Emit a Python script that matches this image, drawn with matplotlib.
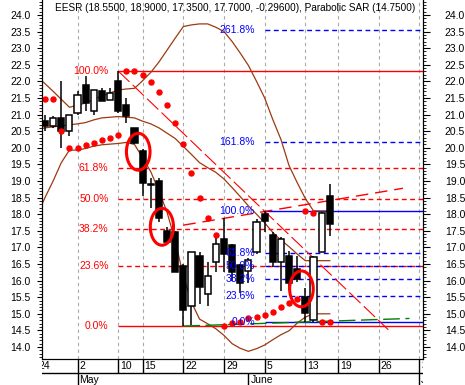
import matplotlib
matplotlib.use('Agg')
import matplotlib.pyplot as plt
from matplotlib.patches import Ellipse, Rectangle
from matplotlib.ticker import MultipleLocator, FormatStrFormatter

plt.rcParams['font.family'] = ['Liberation Sans', 'DejaVu Sans']

# daily candles, x = trading-day index (0 = May 2)
days = list(range(-4, 32))
opens = [20.8, 20.65, 20.9, 20.5, 21.05, 21.9, 21.1, 21.7, 21.45, 22.0,
         21.3, 20.6, 19.9, 18.9, 19.0, 17.5, 17.45, 16.45, 15.25, 16.75,
         15.6, 16.55, 17.25, 17.07, 16.47, 16.3, 16.85, 18.0, 17.37, 16.55,
         16.75, 16.35, 15.5, 14.8, 16.87, 18.55]
highs = [21.0, 20.95, 22.0, 21.0, 21.7, 22.15, 21.75, 21.8, 21.8, 22.31,
         21.5, 20.6, 19.95, 19.1, 19.1, 17.6, 17.5, 16.5, 16.85, 16.85,
         16.55, 17.3, 17.88, 17.1, 16.5, 16.68, 17.85, 18.11, 17.45, 17.3,
         16.9, 16.75, 15.78, 16.75, 18.08, 18.9]
lows = [20.5, 20.6, 20.0, 20.35, 21.0, 21.1, 21.0, 21.4, 21.45, 21.05,
        20.75, 20.1, 18.55, 18.2, 17.75, 17.1, 16.25, 14.63, 14.65, 15.3,
        15.25, 16.25, 16.25, 16.0, 15.64, 15.93, 16.8, 17.45, 16.4, 15.7,
        15.72, 15.95, 14.75, 14.76, 16.85, 17.35]
closes = [20.65, 20.9, 20.5, 21.0, 21.6, 21.35, 21.75, 21.4, 21.65, 21.1,
          20.95, 20.15, 18.95, 18.88, 17.9, 17.15, 16.25, 15.1, 16.85, 15.8,
          16.15, 17.1, 16.8, 16.27, 15.92, 16.62, 17.75, 17.8, 16.55, 17.25,
          15.92, 16.05, 15.02, 16.7, 18.03, 17.7]

# parabolic SAR, same days
sar = [21.48, 21.46, 20.52, 20.0, 20.0, 20.07, 20.13, 20.22, 20.3, 20.37,
       22.31, 22.31, 22.19, 21.98, 21.68, 21.29, 20.76, 20.11, 19.24, 18.5,
       17.88, 17.36, 14.63, 14.71, 14.76, 14.86, 14.89, 14.96, 15.06, 15.2,
       15.32, 15.44, 18.1, 18.03, 14.75, 14.75]

# bollinger bands, days -5 .. 31
band_days = list(range(-5, 32))
bb_upper = [22.16, 21.93, 21.7, 21.46, 21.22, 21.28, 21.35, 21.46, 21.56, 21.65,
            21.74, 21.77, 21.79, 22.02, 22.27, 22.58, 22.94, 23.3, 23.65, 23.7,
            23.73, 23.73, 23.63, 23.5, 23.2, 22.85, 22.48, 22.0, 21.5, 20.85,
            20.25, 19.46, 18.95, 18.47, 18.1, 18.1, 18.1]
bb_mid = [20.55, 20.6, 20.63, 20.66, 20.69, 20.72, 20.76, 20.84, 20.9, 20.92,
          20.94, 20.92, 20.9, 20.8, 20.72, 20.6, 20.44, 20.28, 20.04, 19.8,
          19.55, 19.4, 19.26, 19.06, 18.8, 18.53, 18.25, 18.0, 17.74, 17.45,
          17.22, 17.02, 16.8, 16.6, 16.6, 16.6, 16.6]
bb_lower = [17.95, 18.5, 19.0, 19.55, 19.93, 19.93, 19.98, 20.05, 20.09, 20.11,
            20.13, 20.16, 20.1, 19.7, 19.28, 18.7, 18.06, 17.2, 16.15, 15.35,
            14.84, 14.7, 14.55, 14.35, 14.1, 13.96, 13.87, 13.95, 14.06, 14.22,
            14.37, 14.49, 14.72, 14.9, 15.0, 15.0, 15.0]

# fibonacci swings (day of high, day of low)
red_swing = (5, 13)
blue_swing = (23, 28)
red_levels = [1.0, 0.618, 0.5, 0.382, 0.236, 0.0]
blue_levels = [2.618, 1.618, 1.0, 0.618, 0.5, 0.382, 0.236, 0.0]

# drawn trend lines
fan_x, fan_y = [5, 38.2], [22.31, 14.52]
rise_x, rise_y = [13, 40], [17.67, 18.78]
green_x, green_y = [13, 40.8], [14.63, 14.86]

# hand-drawn circles
ell_x = [7.46, 10.37, 27.52]
ell_y = [19.88, 17.62, 15.75]
ell_w = [2.9, 2.85, 2.9]
ell_h = [1.11, 1.11, 1.08]

tick_days = [-5, 0, 5, 8, 13, 18, 23, 28, 32, 37, 42]
tick_labels = ['24', '2', '10', '15', '22', '29', '5', '13', '19', '26', '3']
month_days = [0, 21, 42]
month_labels = ['May', 'June', 'July']

title = 'EESR (18.5500, 18.9000, 17.3500, 17.7000, -0.29600), Parabolic SAR (14.7500)'

RED = '#ff0000'
BLUE = '#0000ff'
BROWN = '#9c3a10'
FS = 7.5

W, H = 465, 385
fig = plt.figure(figsize=(W / 100, H / 100), dpi=100)
left, right, bottom = 41.7 / W, 422.5 / W, (H - 359.3) / H
ax = fig.add_axes([left, bottom, right - left, 1 - bottom])
xlim = (-4.405, 42.4)
ylim = (13.63, 24.45)
ax.set_xlim(*xlim)
ax.set_ylim(*ylim)

for d in tick_days:
    ax.axvline(d, color='#a8a8a8', lw=0.8, ls=(0, (3, 3)), zorder=0)

# bands
ax.plot(band_days, bb_upper, color=BROWN, lw=0.9, zorder=2)
ax.plot(band_days, bb_mid, color=BROWN, lw=0.9, zorder=2)
ax.plot(band_days, bb_lower, color=BROWN, lw=0.9, zorder=2)

# fibonacci retracements
def fib(swing, levels, color):
    hi = highs[days.index(swing[0])]
    lo = lows[days.index(swing[1])]
    for lv in levels:
        y = lo + lv * (hi - lo)
        solid = lv in (0.0, 1.0)
        ax.hlines(y, swing[0], xlim[1], color=color, lw=1.0,
                  ls='-' if solid else (0, (3.5, 2.5)), zorder=1)
        ax.text(swing[0] - 1.2, y, '%.1f%%' % (lv * 100), color=color,
                fontsize=FS, ha='right', va='center', zorder=6)

fib(red_swing, red_levels, RED)
fib(blue_swing, blue_levels, BLUE)

ax.plot(fan_x, fan_y, color=RED, lw=0.8, ls=(0, (14, 4)), zorder=2)
ax.plot(rise_x, rise_y, color=RED, lw=1.0, ls=(0, (9, 5)), zorder=2)
ax.plot(green_x, green_y, color='#008000', lw=1.0, ls=(0, (12, 4)), zorder=2)

# candles
for d, o, h, l, c in zip(days, opens, highs, lows, closes):
    ax.vlines(d, l, h, color='black', lw=1.1, zorder=3)
    up = c >= o
    ax.add_patch(Rectangle((d - 0.38, min(o, c)), 0.76, max(abs(c - o), 0.03),
                           facecolor='white' if up else 'black',
                           edgecolor='black', lw=1.1, zorder=4))

ax.plot(days, sar, 'o', color=RED, ms=3.6, mec=RED, zorder=5)

for x, y, w, h in zip(ell_x, ell_y, ell_w, ell_h):
    ax.add_patch(Ellipse((x, y), w, h, fill=False, edgecolor=RED, lw=2.2, zorder=7))

# axes styling
ax.spines['top'].set_visible(False)
ax.set_xticks([])
ax.yaxis.set_major_locator(MultipleLocator(0.5))
ax.yaxis.set_minor_locator(MultipleLocator(0.1))
ax.yaxis.set_major_formatter(FormatStrFormatter('%.1f'))
ax.tick_params(axis='y', which='major', direction='out', length=3.5, width=0.8,
               labelsize=FS, pad=4.5, colors='black')
ax.tick_params(axis='y', which='minor', direction='out', length=2, width=0.6)

axr = ax.twinx()
axr.set_ylim(*ylim)
axr.spines['top'].set_visible(False)
axr.yaxis.set_major_locator(MultipleLocator(0.5))
axr.yaxis.set_minor_locator(MultipleLocator(0.1))
axr.yaxis.set_major_formatter(FormatStrFormatter('%.1f'))
axr.tick_params(axis='y', which='major', direction='out', length=5, width=0.8,
                labelsize=FS, pad=11)
axr.tick_params(axis='y', which='minor', direction='out', length=2.5, width=0.6)

# date strip
axd = fig.add_axes([left, 0, right - left, bottom])
axd.set_xlim(*xlim)
axd.set_ylim(0, 1)
axd.axis('off')
axd.axhline(0.455, color='black', lw=1.0)
for d, t in zip(tick_days, tick_labels):
    axd.vlines(d, 0.455, 1, color='black', lw=1.0)
    axd.text(d + 0.25, 0.72, t, fontsize=FS, ha='left', va='center', clip_on=True)
for d, t in zip(month_days, month_labels):
    axd.vlines(d, 0, 0.455, color='black', lw=1.0)
    axd.text(d + 0.25, 0.2, t, fontsize=FS, ha='left', va='center', clip_on=True)

fig.text(55 / W, 1 - 8.3 / H, title, fontsize=7.2, ha='left', va='center')

fig.savefig('out.png', dpi=100)
